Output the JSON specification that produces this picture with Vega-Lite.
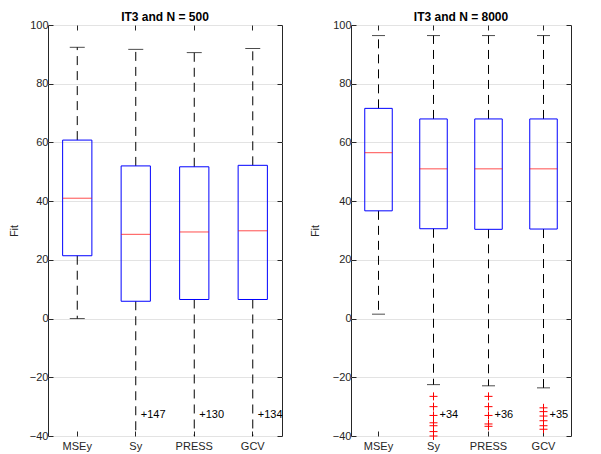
{
  "$schema": "https://vega.github.io/schema/vega-lite/v6.json",
  "padding": {"left": 7, "top": 10, "right": 5, "bottom": 0},
  "spacing": 24,
  "config": {
    "font": "Liberation Sans",
    "view": {"stroke": "#262626", "strokeWidth": 1},
    "axis": {"labelFont": "Liberation Sans", "titleFont": "Liberation Sans", "labelColor": "#262626", "titleColor": "#262626", "labelFontSize": 11, "titleFontSize": 11, "titleFontWeight": "normal", "domain": false, "tickColor": "#262626"},
    "title": {"font": "Liberation Sans", "fontSize": 12, "fontWeight": "bold", "color": "#000000", "offset": -5}
  },
  "datasets": {
    "boxes": [
      {"panel": "A", "cat": "MSEy", "lo": 0, "loCap": 0, "q1": 21.4, "med": 41.0, "q3": 60.8, "hi": 92.4},
      {"panel": "A", "cat": "Sy", "lo": -40, "loCap": null, "q1": 5.9, "med": 28.7, "q3": 52.0, "hi": 91.7},
      {"panel": "A", "cat": "PRESS", "lo": -40, "loCap": null, "q1": 6.5, "med": 29.5, "q3": 51.7, "hi": 90.6},
      {"panel": "A", "cat": "GCV", "lo": -40, "loCap": null, "q1": 6.5, "med": 29.9, "q3": 52.2, "hi": 92.0},
      {"panel": "B", "cat": "MSEy", "lo": 1.5, "loCap": 1.5, "q1": 36.7, "med": 56.5, "q3": 71.6, "hi": 96.4},
      {"panel": "B", "cat": "Sy", "lo": -22.5, "loCap": -22.5, "q1": 30.6, "med": 51.0, "q3": 68.0, "hi": 96.4},
      {"panel": "B", "cat": "PRESS", "lo": -22.9, "loCap": -22.9, "q1": 30.4, "med": 51.0, "q3": 68.0, "hi": 96.4},
      {"panel": "B", "cat": "GCV", "lo": -23.6, "loCap": -23.6, "q1": 30.5, "med": 51.0, "q3": 68.0, "hi": 96.4}
    ],
    "outliers": [
      {"panel": "B", "cat": "Sy", "v": -26.5},
      {"panel": "B", "cat": "Sy", "v": -30.0},
      {"panel": "B", "cat": "Sy", "v": -33.0},
      {"panel": "B", "cat": "Sy", "v": -35.5},
      {"panel": "B", "cat": "Sy", "v": -36.5},
      {"panel": "B", "cat": "Sy", "v": -38.5},
      {"panel": "B", "cat": "Sy", "v": -40.0},
      {"panel": "B", "cat": "PRESS", "v": -26.5},
      {"panel": "B", "cat": "PRESS", "v": -30.0},
      {"panel": "B", "cat": "PRESS", "v": -33.0},
      {"panel": "B", "cat": "PRESS", "v": -35.9},
      {"panel": "B", "cat": "PRESS", "v": -36.7},
      {"panel": "B", "cat": "GCV", "v": -30.4},
      {"panel": "B", "cat": "GCV", "v": -31.7},
      {"panel": "B", "cat": "GCV", "v": -33.2},
      {"panel": "B", "cat": "GCV", "v": -34.8},
      {"panel": "B", "cat": "GCV", "v": -36.5},
      {"panel": "B", "cat": "GCV", "v": -37.7}
    ],
    "labels": [
      {"panel": "A", "cat": "Sy", "v": -33, "label": "+147"},
      {"panel": "A", "cat": "PRESS", "v": -33, "label": "+130"},
      {"panel": "A", "cat": "GCV", "v": -33, "label": "+134"},
      {"panel": "B", "cat": "Sy", "v": -33, "label": "+34"},
      {"panel": "B", "cat": "PRESS", "v": -33, "label": "+36"},
      {"panel": "B", "cat": "GCV", "v": -33, "label": "+35"}
    ]
  },
  "hconcat": [
    {
      "title": "IT3 and N = 500",
      "width": 234,
      "height": 411,
      "resolve": {"axis": {"x": "independent", "y": "independent"}},
      "layer": [
        {
          "encoding": {
            "x": {"field": "cat", "type": "nominal", "scale": {"type": "band", "domain": ["MSEy", "Sy", "PRESS", "GCV"], "paddingInner": 0, "paddingOuter": 0}, "axis": {"title": null, "labelAngle": 0, "tickSize": -5, "labelPadding": 9, "grid": false}},
            "y": {"type": "quantitative", "scale": {"domain": [-40, 100], "nice": false, "zero": false}, "axis": {"title": "Fit", "values": [-40, -20, 0, 20, 40, 60, 80, 100], "tickSize": -5, "labelPadding": 5, "titlePadding": 10, "grid": true, "gridColor": "#e3e3e3"}}
          },
          "layer": [
            {"data": {"name": "boxes"}, "transform": [{"filter": "datum.panel == 'A'"}], "mark": {"type": "rule", "color": "#000000", "strokeDash": [9, 6], "strokeWidth": 1}, "encoding": {"y": {"field": "q3", "type": "quantitative"}, "y2": {"field": "hi"}}},
            {"data": {"name": "boxes"}, "transform": [{"filter": "datum.panel == 'A'"}], "mark": {"type": "rule", "color": "#000000", "strokeDash": [9, 6], "strokeWidth": 1, "clip": true}, "encoding": {"y": {"field": "q1", "type": "quantitative"}, "y2": {"field": "lo"}}},
            {"data": {"name": "boxes"}, "transform": [{"filter": "datum.panel == 'A'"}], "mark": {"type": "tick", "color": "#000000", "size": 15, "thickness": 1}, "encoding": {"y": {"field": "hi", "type": "quantitative"}}},
            {"data": {"name": "boxes"}, "transform": [{"filter": "datum.panel == 'A'"}], "mark": {"type": "tick", "color": "#000000", "size": 15, "thickness": 1}, "encoding": {"y": {"field": "loCap", "type": "quantitative"}}},
            {"data": {"name": "boxes"}, "transform": [{"filter": "datum.panel == 'A'"}], "mark": {"type": "bar", "width": {"band": 0.5}, "fillOpacity": 0, "fill": "#ffffff", "stroke": "#0000ff", "strokeWidth": 1}, "encoding": {"y": {"field": "q1", "type": "quantitative"}, "y2": {"field": "q3"}}},
            {"data": {"name": "boxes"}, "transform": [{"filter": "datum.panel == 'A'"}], "mark": {"type": "tick", "color": "#ff0000", "size": 29, "thickness": 1}, "encoding": {"y": {"field": "med", "type": "quantitative"}}},
            {"data": {"name": "labels"}, "transform": [{"filter": "datum.panel == 'A'"}], "mark": {"type": "text", "align": "left", "baseline": "middle", "dx": 5, "fontSize": 11, "color": "#000000"}, "encoding": {"y": {"field": "v", "type": "quantitative"}, "text": {"field": "label"}}}
          ]
        },
        {"data": {"name": "boxes"}, "transform": [{"filter": "datum.panel == 'A'"}], "mark": {"type": "tick", "opacity": 0}, "encoding": {
          "x": {"field": "cat", "type": "nominal", "axis": {"orient": "top", "title": null, "labels": false, "tickSize": -5, "grid": false}},
          "y": {"field": "med", "type": "quantitative", "axis": {"orient": "right", "title": null, "labels": false, "tickSize": -5, "grid": false, "values": [-40, -20, 0, 20, 40, 60, 80, 100]}}}}
      ]
    },
    {
      "title": "IT3 and N = 8000",
      "width": 220,
      "height": 411,
      "resolve": {"axis": {"x": "independent", "y": "independent"}},
      "layer": [
        {
          "encoding": {
            "x": {"field": "cat", "type": "nominal", "scale": {"type": "band", "domain": ["MSEy", "Sy", "PRESS", "GCV"], "paddingInner": 0, "paddingOuter": 0}, "axis": {"title": null, "labelAngle": 0, "tickSize": -5, "labelPadding": 9, "grid": false}},
            "y": {"type": "quantitative", "scale": {"domain": [-40, 100], "nice": false, "zero": false}, "axis": {"title": "Fit", "values": [-40, -20, 0, 20, 40, 60, 80, 100], "tickSize": -5, "labelPadding": 5, "titlePadding": 12, "grid": true, "gridColor": "#e3e3e3"}}
          },
          "layer": [
            {"data": {"name": "boxes"}, "transform": [{"filter": "datum.panel == 'B'"}], "mark": {"type": "rule", "color": "#000000", "strokeDash": [9, 6], "strokeWidth": 1}, "encoding": {"y": {"field": "q3", "type": "quantitative"}, "y2": {"field": "hi"}}},
            {"data": {"name": "boxes"}, "transform": [{"filter": "datum.panel == 'B'"}], "mark": {"type": "rule", "color": "#000000", "strokeDash": [9, 6], "strokeWidth": 1, "clip": true}, "encoding": {"y": {"field": "q1", "type": "quantitative"}, "y2": {"field": "lo"}}},
            {"data": {"name": "boxes"}, "transform": [{"filter": "datum.panel == 'B'"}], "mark": {"type": "tick", "color": "#000000", "size": 13, "thickness": 1}, "encoding": {"y": {"field": "hi", "type": "quantitative"}}},
            {"data": {"name": "boxes"}, "transform": [{"filter": "datum.panel == 'B'"}], "mark": {"type": "tick", "color": "#000000", "size": 13, "thickness": 1}, "encoding": {"y": {"field": "loCap", "type": "quantitative"}}},
            {"data": {"name": "boxes"}, "transform": [{"filter": "datum.panel == 'B'"}], "mark": {"type": "bar", "width": {"band": 0.5}, "fillOpacity": 0, "fill": "#ffffff", "stroke": "#0000ff", "strokeWidth": 1}, "encoding": {"y": {"field": "q1", "type": "quantitative"}, "y2": {"field": "q3"}}},
            {"data": {"name": "boxes"}, "transform": [{"filter": "datum.panel == 'B'"}], "mark": {"type": "tick", "color": "#ff0000", "size": 27.5, "thickness": 1}, "encoding": {"y": {"field": "med", "type": "quantitative"}}},
            {"data": {"name": "outliers"}, "transform": [{"filter": "datum.panel == 'B'"}], "mark": {"type": "point", "shape": "M-1,0H1M0,-1V1", "filled": false, "stroke": "#ff0000", "strokeWidth": 1, "size": 64, "opacity": 1}, "encoding": {"y": {"field": "v", "type": "quantitative"}}},
            {"data": {"name": "labels"}, "transform": [{"filter": "datum.panel == 'B'"}], "mark": {"type": "text", "align": "left", "baseline": "middle", "dx": 6, "fontSize": 11, "color": "#000000"}, "encoding": {"y": {"field": "v", "type": "quantitative"}, "text": {"field": "label"}}}
          ]
        },
        {"data": {"name": "boxes"}, "transform": [{"filter": "datum.panel == 'B'"}], "mark": {"type": "tick", "opacity": 0}, "encoding": {
          "x": {"field": "cat", "type": "nominal", "axis": {"orient": "top", "title": null, "labels": false, "tickSize": -5, "grid": false}},
          "y": {"field": "med", "type": "quantitative", "axis": {"orient": "right", "title": null, "labels": false, "tickSize": -5, "grid": false, "values": [-40, -20, 0, 20, 40, 60, 80, 100]}}}}
      ]
    }
  ]
}
